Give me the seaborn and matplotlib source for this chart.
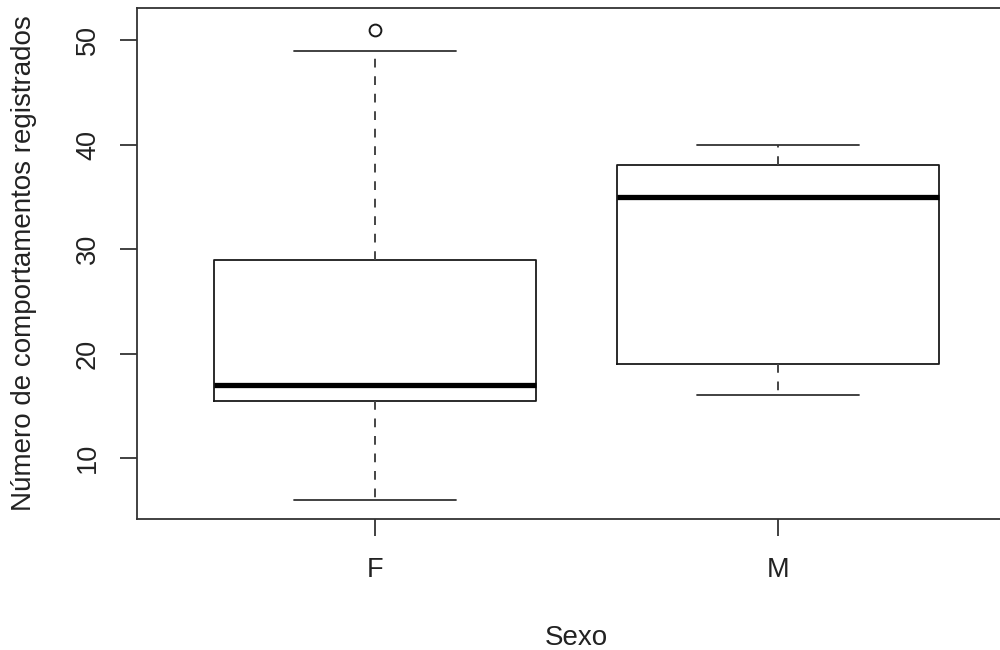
import pandas as pd
import matplotlib
matplotlib.use('Agg')
import matplotlib.pyplot as plt
import seaborn as sns

# Contagens por indivíduo (quartis e bigodes)
sexo_f = [6, 12, 15, 16, 17, 17, 22, 28, 30, 49, 51]
sexo_m = [16, 18, 19, 30, 35, 36, 38, 39, 40]
categorias = ['F', 'M']
y_ticks = [10, 20, 30, 40, 50]

df = pd.DataFrame({
    'Sexo': ['F'] * len(sexo_f) + ['M'] * len(sexo_m),
    'n': sexo_f + sexo_m,
})

sns.set_style('white')
plt.rcParams['font.family'] = ['Liberation Sans', 'DejaVu Sans']

fig = plt.figure(figsize=(10, 6.5), dpi=100)
# eixo um pouco além da borda direita (a imagem original está cortada)
ax = fig.add_axes([0.137, 0.2015, 0.879, 0.786])

cor = '#1a1a1a'
sns.boxplot(data=df, x='Sexo', y='n', order=categorias, ax=ax,
            width=0.8, whis=1.5, fill=False, color=cor, linecolor=cor,
            boxprops=dict(linewidth=1.3, color=cor),
            medianprops=dict(linewidth=3.8, color='black', solid_capstyle='butt'),
            whiskerprops=dict(linewidth=1.4, color='#444444', linestyle=(0, (4.5, 4.5))),
            capprops=dict(linewidth=1.3, color='#333333'),
            flierprops=dict(marker='o', markersize=8.5, markerfacecolor='none',
                            markeredgecolor=cor, markeredgewidth=1.4))

ax.set_xlim(-0.59, 1.59)
ax.set_ylim(4.16, 53.06)
ax.set_yticks(y_ticks)
ax.set_yticklabels([str(v) for v in y_ticks], rotation=90, va='center')

for s in ax.spines.values():
    s.set_visible(True)
    s.set_color('#333333')
    s.set_linewidth(1.3)

ax.tick_params(axis='both', direction='out', length=12, width=1.3,
               color='#333333', labelsize=19.5, labelcolor='#222222',
               bottom=True, left=True)
ax.tick_params(axis='x', pad=15)
ax.tick_params(axis='y', pad=14)

ax.set_xlabel('Sexo', fontsize=20, color='#222222')
ax.set_ylabel('Número de comportamentos registrados', fontsize=20,
              color='#222222')
ax.xaxis.set_label_coords(0.5, -0.207)
ax.yaxis.set_label_coords(-0.114, 0.5)

plt.savefig('out.png', dpi=100)
